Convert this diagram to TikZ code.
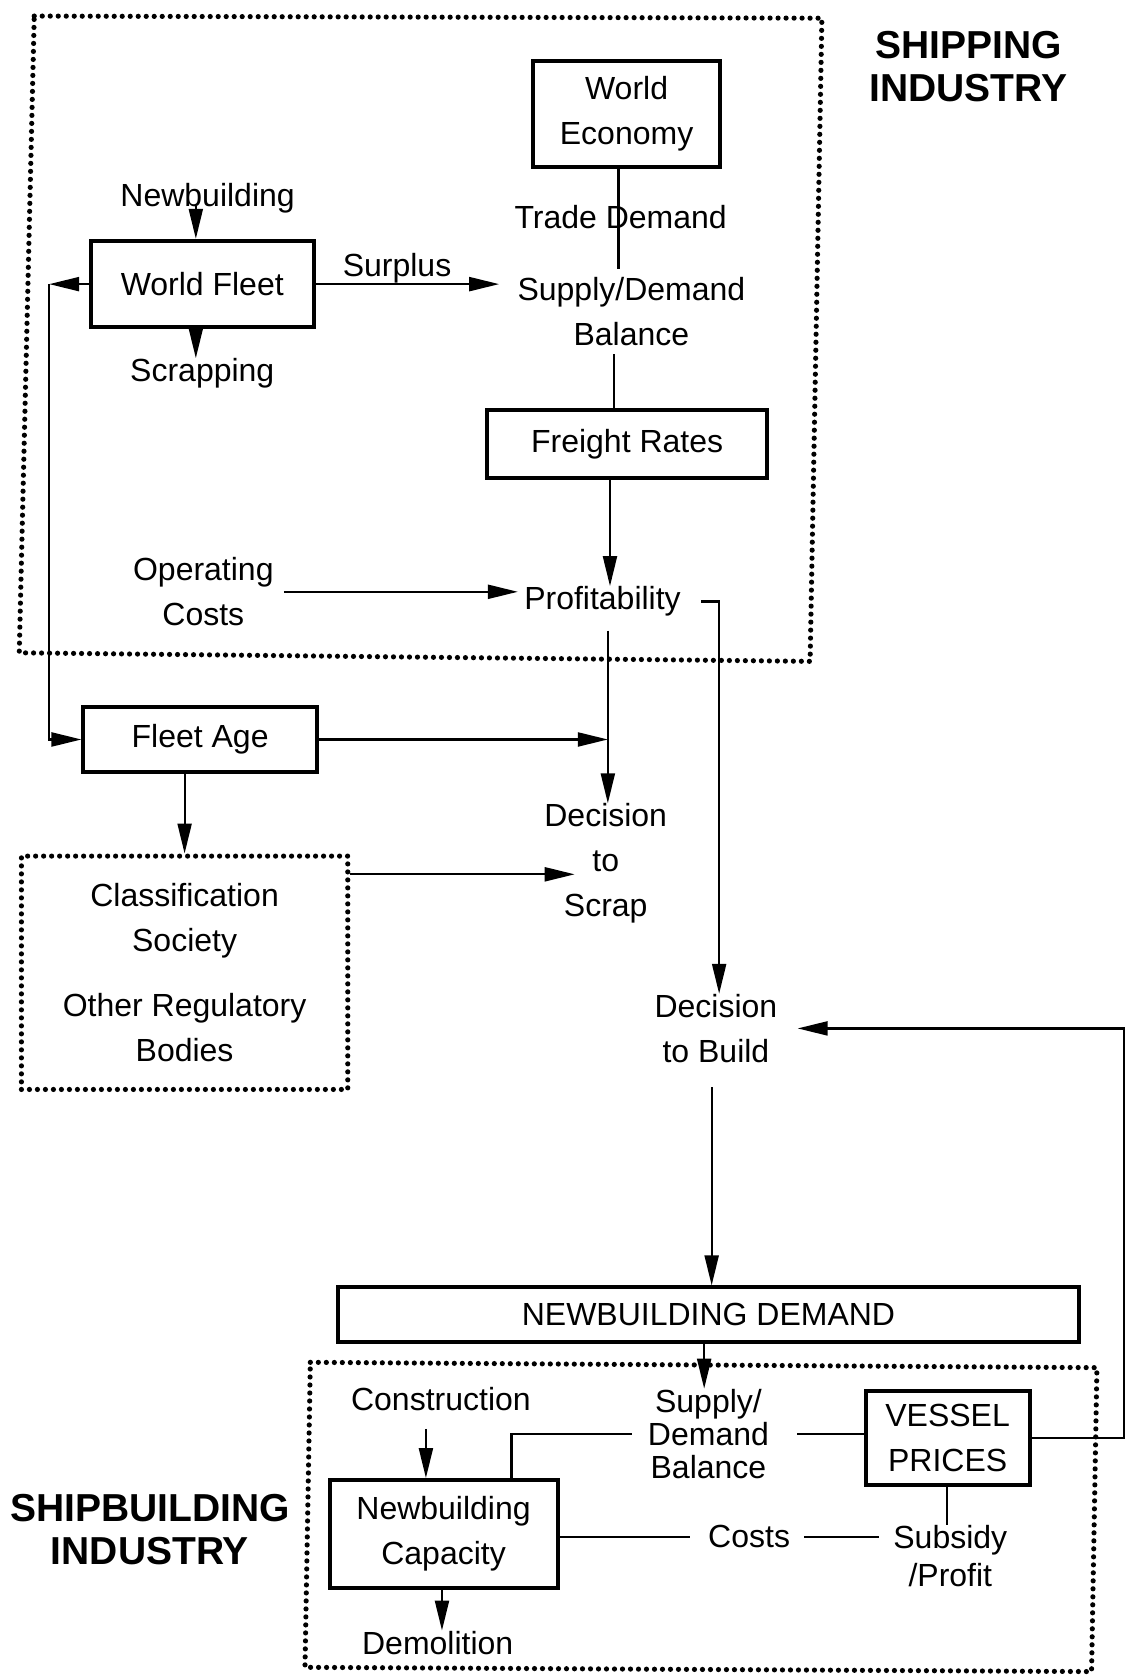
\documentclass[tikz,border=0pt]{standalone}
\usepackage{fontspec}
\setmainfont{Liberation Sans}
\usetikzlibrary{arrows.meta}
\begin{document}
\begin{tikzpicture}[x=0.5352pt,y=-0.5352pt,
  lab/.style={inner sep=0pt, align=center, font=\fontsize{16}{22.5}\selectfont},
  box/.style={draw, line width=2pt, inner sep=0pt, align=center, font=\fontsize{16}{22.5}\selectfont},
  dotbox/.style={draw, line width=2.6pt, dash pattern=on 0pt off 4pt, line cap=round},
  titletext/.style={inner sep=0pt, align=center, font=\fontsize{19.5}{21.5}\selectfont\bfseries},
  conn/.style={line width=1.1pt},
  arr/.style={line width=1.1pt, -{Triangle[length=15pt,width=7pt]}}
]
\useasboundingbox (0,0) rectangle (1065,1568);

% frames
\draw[dotbox] (32,15) -- (768,17) -- (757,618) -- (18,610) -- cycle;
\draw[dotbox] (290,1273) -- (1025,1278) -- (1020,1562) -- (285,1558) -- cycle;

% titles
\node[titletext] (shiptitle) at (905,62) {SHIPPING\\INDUSTRY};
\node[titletext] (sbtitle) at (140,1429) {SHIPBUILDING\\INDUSTRY};

% shipping industry nodes
\node[box, minimum width=93.66pt, minimum height=52.98pt] (we) at (585.5,106.5) {World\\Economy};
\node[lab] (td) at (580,203) {Trade Demand};
\node[lab] (sdb) at (590,291) {Supply/Demand\\Balance};
\node[box, minimum width=140.2pt, minimum height=34.25pt] (fr) at (586,415) {Freight Rates};
\node[lab] (prof) at (563,562) {Profitability};
\node[lab] (opc) at (190,553) {Operating\\Costs};
\node[box, minimum width=111.3pt, minimum height=43.35pt] (wf) at (189,265.5) {World Fleet};
\node[lab] (nb) at (194,185) {Newbuilding};
\node[lab] (scr) at (189,349) {Scrapping};
\node[lab] (surl) at (371,251) {Surplus};

% middle nodes
\node[box, minimum width=116.7pt, minimum height=32.1pt] (fa) at (187,691) {Fleet Age};
\node[lab] (dts) at (566,807) {Decision\\to\\Scrap};
\node[dotbox, lab, minimum width=163.2pt, minimum height=116.7pt] (cls) at (172.5,909)
  {Classification\\Society\\[10pt]Other Regulatory\\Bodies};
\node[lab] (dtb) at (669,961) {Decision\\to Build};
\node[box, minimum width=370.4pt, minimum height=27.3pt] (nbd) at (662,1228.5) {NEWBUILDING DEMAND};

% shipbuilding nodes
\node[lab] (con) at (412,1307) {Construction};
\node[lab, font=\fontsize{16}{16.6}\selectfont] (sdb2) at (662,1340) {Supply/\\Demand\\Balance};
\node[box, minimum width=81.9pt, minimum height=47.1pt] (vp) at (885.5,1344) {VESSEL\\PRICES};
\node[box, minimum width=114pt, minimum height=54.05pt] (nc) at (414.5,1433.5) {Newbuilding\\Capacity};
\node[lab] (dem) at (409,1535) {Demolition};
\node[lab] (costs) at (700,1436) {Costs};
\node[lab, font=\fontsize{16}{19.3}\selectfont] (sub) at (888,1454) {Subsidy\\/Profit};

% helper coordinates
\coordinate (vA) at (578,0);
\coordinate (vB) at (574,0);
\coordinate (vC) at (570,0);
\coordinate (vD) at (183,0);
\coordinate (vE) at (568,0);
\coordinate (vF) at (672,0);
\coordinate (vG) at (665,0);
\coordinate (vH) at (658,0);
\coordinate (vI) at (478,0);
\coordinate (vJ) at (398,0);
\coordinate (vK) at (413,0);
\coordinate (vL) at (885,0);
\coordinate (cfb) at (46,265.5);
\coordinate (c537) at (537,817);
\coordinate (cR) at (1050,961);

% connectors (shipping)
\draw[conn] (we.south -| vA) -- ([yshift=4pt]sdb.north -| vA);
\draw[conn] ([yshift=-4pt]sdb.south -| vB) -- (fr.north -| vB);
\draw[arr] (fr.south -| vC) -- (prof.north -| vC);
\draw[arr] ([xshift=5pt]opc.east) -- ([xshift=-3pt]opc.east -| prof.west);
\draw[arr] (wf.east) -- ([xshift=-9pt]wf.east -| sdb.west);
\draw[arr] (nb.base -| vD) -- (wf.north -| vD);
\draw[arr] (wf.south -| vD) -- (scr.north -| vD);
\draw[arr] (wf.west) -- (cfb);
\draw[arr] (cfb) |- (fa.west);

% connectors (middle)
\draw[arr] (fa.east) -- (fa.east -| vE);
\draw[arr] ([yshift=-7pt]prof.south -| vE) -- (dts.north -| vE);
\draw[arr] (fa.south -| cls.north) -- (cls.north);
\draw[arr] (cls.east |- c537) -- (c537);
\draw[arr] ([xshift=10pt]prof.east) -| (dtb.north -| vF);
\draw[arr] ([yshift=-12pt]dtb.south -| vG) -- (nbd.north -| vG);
\draw[arr] (nbd.south -| vH) -- (sdb2.north -| vH);

% connectors (shipbuilding)
\draw[conn] ([xshift=-8pt]sdb2.west) -| (nc.north -| vI);
\draw[conn] ([xshift=14pt]sdb2.east) -- (sdb2.east -| vp.west);
\draw[arr] ([yshift=-9pt]con.south -| vJ) -- (nc.north -| vJ);
\draw[arr] (nc.south -| vK) -- (dem.north -| vK);
\draw[conn] (nc.east |- costs.west) -- ([xshift=-9pt]costs.west);
\draw[conn] ([xshift=7pt]costs.east) -- ([xshift=-7pt]costs.east -| sub.west);
\draw[conn] (vp.south -| vL) -- (sub.north -| vL);
\draw[arr] (vp.east) -| (cR) -- ([xshift=10pt]dtb.east);
\end{tikzpicture}
\end{document}
